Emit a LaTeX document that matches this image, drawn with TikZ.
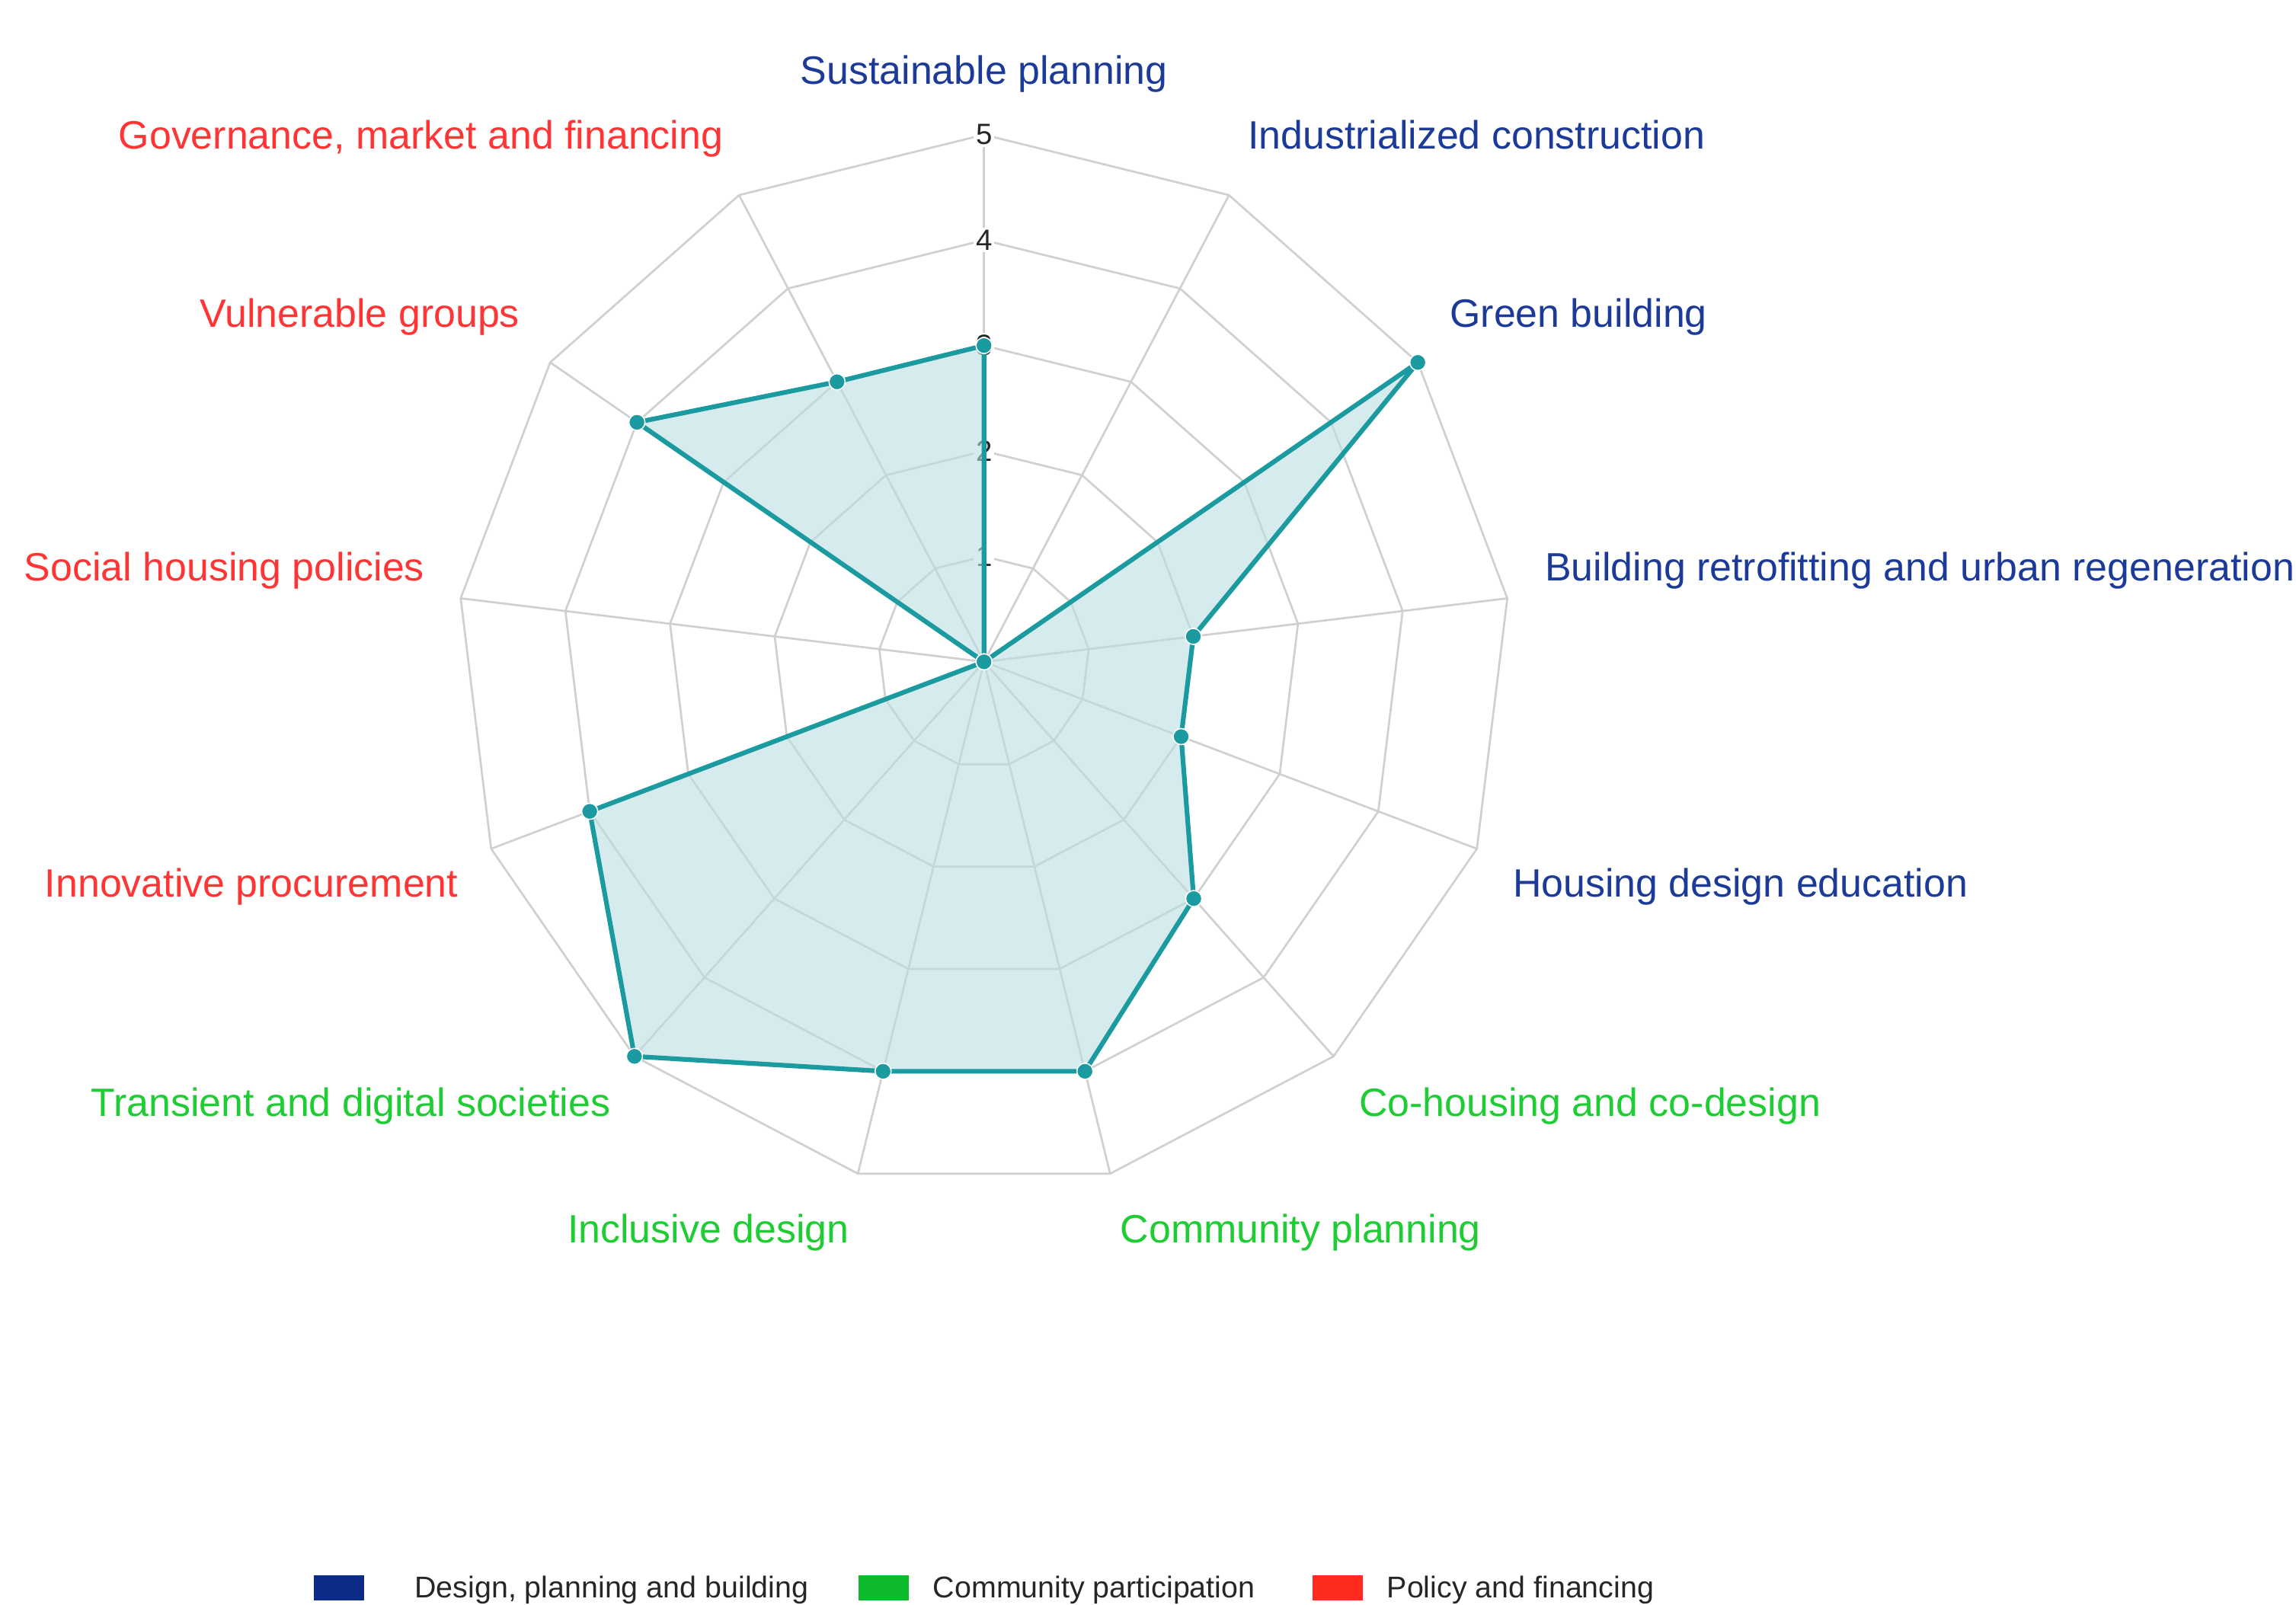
\documentclass[tikz,border=0pt]{standalone}
\usepackage{fontspec}
\setmainfont{Liberation Sans}
\definecolor{gridgray}{HTML}{D0D0D0}
\definecolor{tealline}{HTML}{1B9AA0}
\definecolor{tealfill}{HTML}{BBDEE1}
\definecolor{labblue}{HTML}{1C3A98}
\definecolor{labred}{HTML}{FF3535}
\definecolor{labgreen}{HTML}{1ECC33}
\definecolor{legblue}{HTML}{0C2B88}
\definecolor{leggreen}{HTML}{0DBB2A}
\definecolor{legred}{HTML}{FF2B1F}
\begin{document}
\begin{tikzpicture}[x=1pt,y=-1pt,
  gridline/.style={draw=gridgray,line width=1.4pt},
  series/.style={draw=tealline,line width=3.2pt,line join=round,fill=tealfill,fill opacity=0.6},
  dot/.style={circle,fill=tealline,draw=white,line width=0.8pt,inner sep=0pt,minimum size=11pt},
  axlabel/.style={font=\fontsize{27}{30}\selectfont,inner sep=0pt},
  ticklab/.style={font=\fontsize{20}{24}\selectfont,fill=white,inner sep=1.5pt,text=black!85},
  legbox/.style={inner sep=0pt,minimum width=34pt,minimum height=17pt},
  legtext/.style={font=\fontsize{20.5}{24}\selectfont,inner sep=0pt,text=black!85,anchor=base west}]
\useasboundingbox (0,0) rectangle (1568,1096);
\begin{scope}[shift={(672,452)}]
  % grid polygons
  \foreach \r in {1,...,5} {
    \draw[gridline] (-90:{\r*72}) \foreach \k in {1,...,12} { -- ({-90+\k*360/13}:{\r*72}) } -- cycle;
  }
  % spokes
  \foreach \k in {0,...,12} \draw[gridline] (0,0) -- ({-90+\k*360/13}:360);
  % tick labels
  \foreach \v in {1,...,5} \node[ticklab] (t\v) at (0,{-\v*72}) {\v};
  % data
  \foreach \v [count=\k from 0] in {3,0,5,2,2,3,4,4,5,4,0,4,3}
    \coordinate (p\k) at ({-90+\k*360/13}:{\v*72});
  \draw[series] (p0) -- (p1) -- (p2) -- (p3) -- (p4) -- (p5) -- (p6) -- (p7)
    -- (p8) -- (p9) -- (p10) -- (p11) -- (p12) -- cycle;
  \foreach \k in {0,...,12} \node[dot] (d\k) at (p\k) {};
\end{scope}
% axis labels
\node[axlabel,text=labblue,anchor=base] (l0) at (672,57.5) {Sustainable planning};
\node[axlabel,text=labblue,anchor=base west] (l1) at (852,101.5) {Industrialized construction};
\node[axlabel,text=labblue,anchor=base west] (l2) at (990,223.5) {Green building};
\node[axlabel,text=labblue,anchor=base west] (l3) at (1055,396.5) {Building retrofitting and urban regeneration};
\node[axlabel,text=labblue,anchor=base west] (l4) at (1033,612.5) {Housing design education};
\node[axlabel,text=labgreen,anchor=base west] (l5) at (928,762.5) {Co-housing and co-design};
\node[axlabel,text=labgreen,anchor=base west] (l6) at (765,848.5) {Community planning};
\node[axlabel,text=labgreen,anchor=base east] (l7) at (580,848.5) {Inclusive design};
\node[axlabel,text=labgreen,anchor=base east] (l8) at (417,762.5) {Transient and digital societies};
\node[axlabel,text=labred,anchor=base east] (l9) at (313,612.5) {Innovative procurement};
\node[axlabel,text=labred,anchor=base east] (l10) at (290,396.5) {Social housing policies};
\node[axlabel,text=labred,anchor=base east] (l11) at (355,223.5) {Vulnerable groups};
\node[axlabel,text=labred,anchor=base east] (l12) at (494,101.5) {Governance, market and financing};
% legend
\node[legbox,fill=legblue] (lb1) at (231.5,1084.5) {};
\node[legtext] (lt1) at (283,1091) {Design, planning and building};
\node[legbox,fill=leggreen] (lb2) at (603.5,1084.5) {};
\node[legtext] (lt2) at (637,1091) {Community participation};
\node[legbox,fill=legred] (lb3) at (913.5,1084.5) {};
\node[legtext] (lt3) at (947,1091) {Policy and financing};
\end{tikzpicture}
\end{document}
